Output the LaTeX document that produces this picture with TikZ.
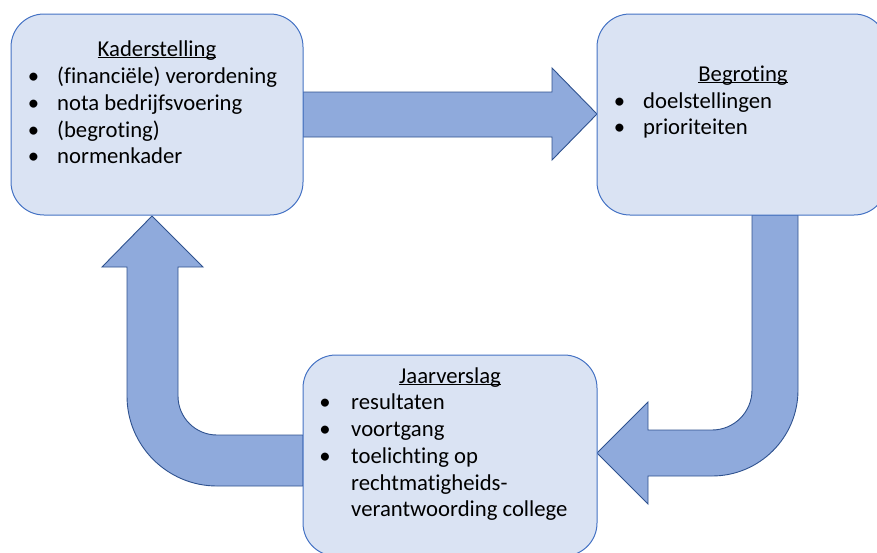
\documentclass[tikz,border=0pt]{standalone}
\usepackage{fontspec}
\setmainfont{Carlito}[Ligatures=CommonOff]
\newcommand\myul[1]{\setbox0\hbox{#1}\rlap{\rule[-2.3pt]{\wd0}{1.1pt}}\box0}
\definecolor{boxfill}{HTML}{DAE3F3}
\definecolor{boxline}{HTML}{4472C4}
\definecolor{arrfill}{HTML}{8FAADC}
\definecolor{arrline}{HTML}{2F528F}
\pgfdeclarelayer{bg}
\pgfsetlayers{bg,main}
\begin{document}
\begin{tikzpicture}[x=1pt,y=-1pt,
  box/.style={draw=boxline, fill=boxfill, line width=1pt, rounded corners=33pt,
    minimum height=201pt, inner sep=0pt},
  blockarrow/.style={draw=arrline, fill=arrfill, line width=0.9pt, line join=miter},
  txt/.style={font=\fontsize{22.7}{27}\selectfont, inner sep=0pt, anchor=base west},
  ttl/.style={font=\fontsize{22.7}{27}\selectfont, inner sep=0pt, anchor=base},
  bul/.style={font=\fontsize{22.7}{27}\selectfont, inner sep=0pt, anchor=base}]
\useasboundingbox (0,0) rectangle (877,552);

% boxes
\node[box, minimum width=292pt] (kader) at (157,114.5) {};
\node[box, minimum width=290pt] (begr) at (742,114.5) {};
\node[box, minimum width=294pt] (jaar) at (450,455.5) {};

% arrows behind the boxes
\begin{pgfonlayer}{bg}
\draw[blockarrow] (303,92) -- (552,92) -- (552,68) -- (597,114) -- (552,160)
  -- (552,137) -- (303,137) -- cycle;
\draw[blockarrow] (752,215) -- (752,390) arc[start angle=0, end angle=90, radius=40]
  -- (648,430) -- (648,402) -- (597,453) -- (648,504) -- (648,476) -- (712,476)
  arc[start angle=90, end angle=0, radius=86] -- (798,215) -- cycle;
\draw[blockarrow] (303,435) -- (217,435) arc[start angle=90, end angle=180, radius=39]
  -- (178,267) -- (203,267) -- (152,216) -- (102,267) -- (127,267) -- (127,396)
  arc[start angle=180, end angle=90, radius=90] -- (303,486) -- cycle;
\end{pgfonlayer}

% Kaderstelling
\node[ttl] (k0) at (157,56) {\myul{Kaderstelling}};
\node[bul] (kb1) at (33.5,83) {•};
\node[txt] (k1) at (57,83) {(financiële) verordening};
\node[bul] (kb2) at (33.5,110) {•};
\node[txt] (k2) at (57,110) {nota bedrijfsvoering};
\node[bul] (kb3) at (33.5,137) {•};
\node[txt] (k3) at (57,137) {(begroting)};
\node[bul] (kb4) at (33.5,163) {•};
\node[txt] (k4) at (57,163) {normenkader};

% Begroting
\node[ttl] (b0) at (743,81) {\myul{Begroting}};
\node[bul] (bb1) at (619.5,108) {•};
\node[txt] (b1) at (643,108) {doelstellingen};
\node[bul] (bb2) at (619.5,134.5) {•};
\node[txt] (b2) at (643,134.5) {prioriteiten};

% Jaarverslag
\node[ttl] (j0) at (450,383) {\myul{Jaarverslag}};
\node[bul] (jb1) at (325,409.5) {•};
\node[txt] (j1) at (351,409.5) {resultaten};
\node[bul] (jb2) at (325,436) {•};
\node[txt] (j2) at (351,436) {voortgang};
\node[bul] (jb3) at (325,463) {•};
\node[txt] (j3) at (351,463) {toelichting op};
\node[txt] (j4) at (351,490) {rechtmatigheids-};
\node[txt] (j5) at (351,516.5) {verantwoording college};
\end{tikzpicture}
\end{document}
